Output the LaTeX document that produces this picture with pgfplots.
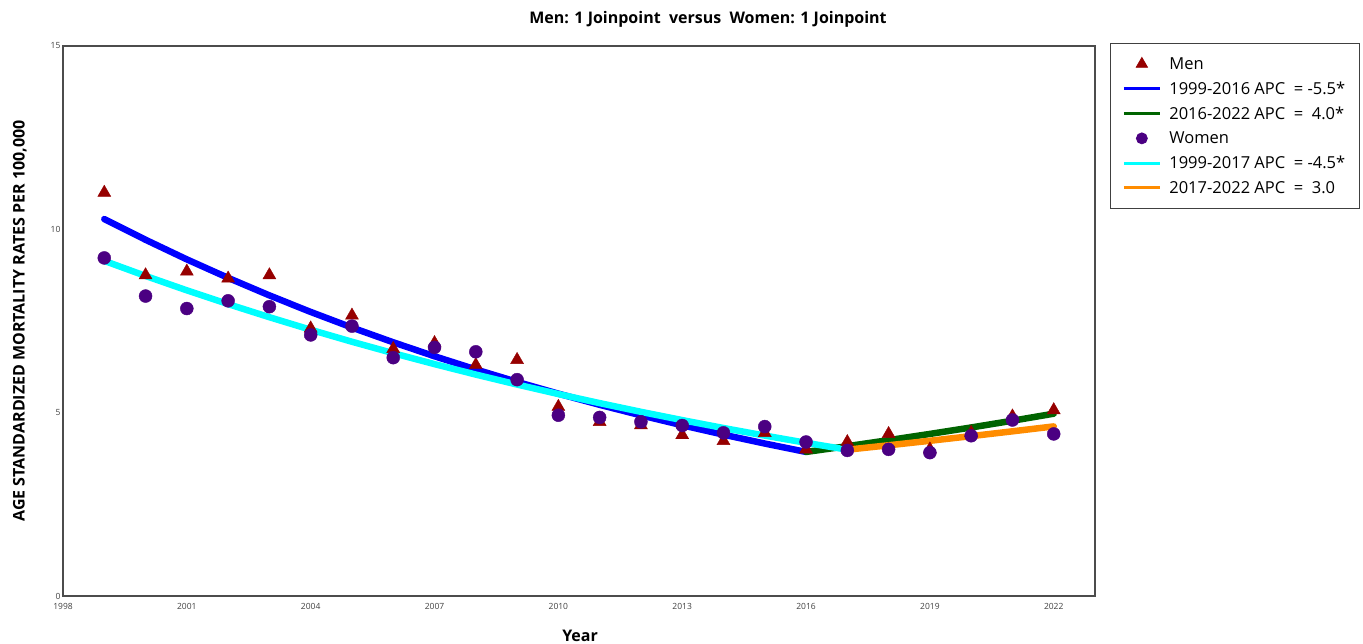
\documentclass[border=0pt]{standalone}
\usepackage{fontspec}
\setmainfont{Open Sans}
\usepackage{pgfplots}
\pgfplotsset{compat=1.18}
\definecolor{menred}{RGB}{150,0,0}
\definecolor{wpurple}{RGB}{75,0,130}
\definecolor{lgreen}{RGB}{0,100,0}
\definecolor{lorange}{RGB}{255,140,0}
\definecolor{lcyan}{RGB}{0,255,255}
\definecolor{lblue}{RGB}{0,0,255}
\begin{document}
\begin{tikzpicture}[x=1pt,y=1pt]
\path[use as bounding box] (0,0) rectangle (1363,644);
\begin{axis}[
  at={(63pt,48pt)}, anchor=south west,
  scale only axis, width=1032pt, height=550pt,
  xmin=1998, xmax=2023, ymin=0, ymax=15,
  xtick={1998,2001,...,2022}, ytick={0,5,10,15},
  major tick length=0pt,
  axis line style={black!70, line width=1.2pt},
  /pgf/number format/assume math mode=true,
  xticklabel style={/pgf/number format/1000 sep=, font=\fontsize{8.5}{9}\selectfont, text=black!75, yshift=-4pt},
  yticklabel style={font=\fontsize{8.5}{9}\selectfont, text=black!75, xshift=1pt},
  title={\textbf{Men: 1 Joinpoint\ \ versus\ \ Women: 1 Joinpoint}},
  title style={at={(axis description cs:0.625,1)}, anchor=base, yshift=16pt, font=\fontsize{16}{18}\selectfont},
  xlabel={\textbf{Year}},
  xlabel style={at={(axis description cs:0.501,-0.0727)}, anchor=center, font=\fontsize{16}{18}\selectfont},
  ylabel={\textbf{AGE STANDARDIZED MORTALITY RATES PER 100,000}},
  ylabel style={at={(axis description cs:-0.0417,0.5)}, anchor=center, font=\fontsize{16}{18}\selectfont},
  legend style={at={(axis description cs:1.0145,1.0055)}, anchor=north west,
    draw=black!75, line width=0.8pt, font=\fontsize{16.5}{19}\selectfont,
    inner xsep=12pt, inner ysep=12pt, row sep=7pt,
    /tikz/every odd column/.append style={column sep=6pt},
    cells={anchor=west}},
  legend image code/.code={\draw[mark repeat=2,mark phase=2] plot coordinates {(0pt,0pt) (18pt,0pt) (36pt,0pt)};},
]
% Men observed
\addplot[forget plot, only marks, mark=triangle*, mark size=7.5pt, color=menred] coordinates {
(1999,11.0) (2000,8.75) (2001,8.85) (2002,8.66) (2003,8.75) (2004,7.3) (2005,7.65)
(2006,6.74) (2007,6.9) (2008,6.3) (2009,6.44) (2010,5.16) (2011,4.75) (2012,4.66)
(2013,4.39) (2014,4.23) (2015,4.45) (2016,4.0) (2017,4.2) (2018,4.42) (2019,4.0)
(2020,4.45) (2021,4.9) (2022,5.07)};
% Women observed
\addplot[forget plot, only marks, mark=*, mark size=6.5pt, color=wpurple] coordinates {
(1999,9.22) (2000,8.18) (2001,7.84) (2002,8.05) (2003,7.89) (2004,7.12) (2005,7.36)
(2006,6.5) (2007,6.78) (2008,6.66) (2009,5.9) (2010,4.93) (2011,4.87) (2012,4.75)
(2013,4.65) (2014,4.45) (2015,4.62) (2016,4.2) (2017,3.97) (2018,4.0) (2019,3.91)
(2020,4.37) (2021,4.8) (2022,4.42)};
% Men fit 1999-2016
\addplot[forget plot, lblue, line width=6.5pt, line cap=round, line join=round] coordinates {
(1999,10.28) (2000,9.715) (2001,9.180) (2002,8.676) (2003,8.198) (2004,7.747) (2005,7.321)
(2006,6.919) (2007,6.538) (2008,6.179) (2009,5.839) (2010,5.518) (2011,5.214) (2012,4.927)
(2013,4.656) (2014,4.400) (2015,4.158) (2016,3.929)};
% Men fit 2016-2022
\addplot[forget plot, lgreen, line width=6.5pt, line cap=round, line join=round] coordinates {
(2016,3.929) (2017,4.086) (2018,4.250) (2019,4.420) (2020,4.596) (2021,4.780) (2022,4.972)};
% Women fit 1999-2017
\addplot[forget plot, lcyan, line width=6.5pt, line cap=round, line join=round] coordinates {
(1999,9.14) (2000,8.729) (2001,8.336) (2002,7.961) (2003,7.603) (2004,7.261) (2005,6.934)
(2006,6.622) (2007,6.324) (2008,6.039) (2009,5.767) (2010,5.508) (2011,5.260) (2012,5.023)
(2013,4.797) (2014,4.581) (2015,4.375) (2016,4.178) (2017,3.990)};
% Women fit 2017-2022
\addplot[forget plot, lorange, line width=6.5pt, line cap=round, line join=round] coordinates {
(2017,3.990) (2018,4.110) (2019,4.233) (2020,4.360) (2021,4.491) (2022,4.625)};
\addlegendimage{only marks, mark=triangle*, mark size=6.5pt, color=menred}
\addlegendentry{Men}
\addlegendimage{lblue, line width=3pt}
\addlegendentry{1999-2016 APC\ \ = -5.5*}
\addlegendimage{lgreen, line width=3pt}
\addlegendentry{2016-2022 APC\ \ =\ \ 4.0*}
\addlegendimage{only marks, mark=*, mark size=5.5pt, color=wpurple}
\addlegendentry{Women}
\addlegendimage{lcyan, line width=3pt}
\addlegendentry{1999-2017 APC\ \ = -4.5*}
\addlegendimage{lorange, line width=3pt}
\addlegendentry{2017-2022 APC\ \ =\ \ 3.0}
\end{axis}
\end{tikzpicture}
\end{document}
